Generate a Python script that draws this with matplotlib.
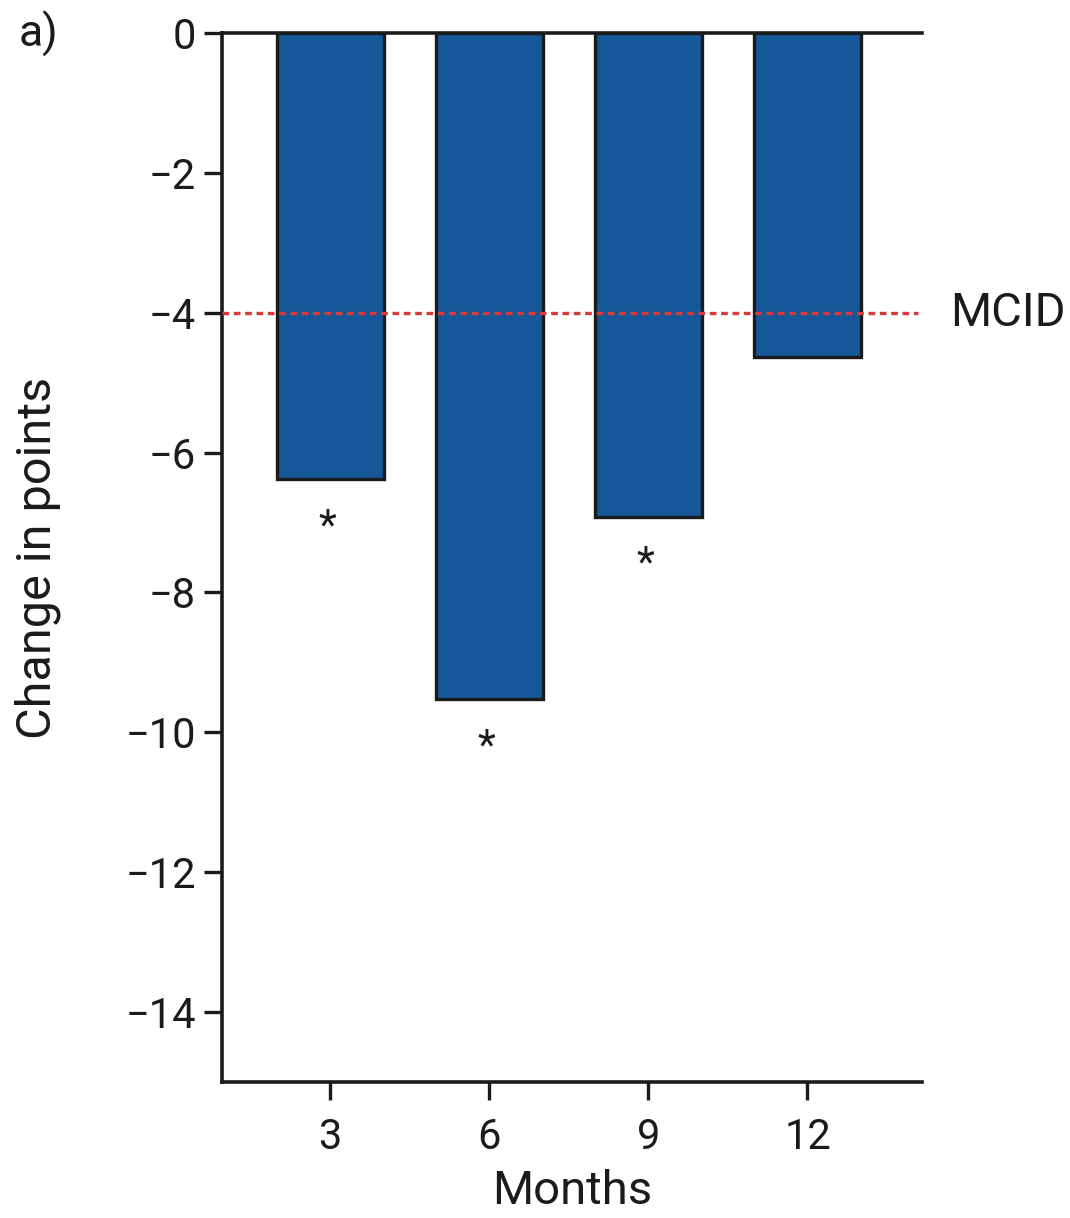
import matplotlib

matplotlib.use("Agg")
import matplotlib.pyplot as plt

months = ["3", "6", "9", "12"]
change = [-6.38, -9.53, -6.92, -4.64]
significant = [True, True, True, False]
mcid = -4.0
y_ticks = [0, -2, -4, -6, -8, -10, -12, -14]

plt.rcParams["font.family"] = ["Liberation Sans Narrow", "Roboto", "DejaVu Sans"]

fig = plt.figure(figsize=(10.7, 12.18), dpi=100)
ax = fig.add_axes([0.2075, 0.1117, 0.6542, 0.8612])

positions = list(range(len(months)))
ax.bar(positions, change, width=0.67, color="#155799", edgecolor="#1a1c1c", linewidth=2.4, zorder=2)
ax.axhline(mcid, xmin=0, xmax=0.994, color="#d83a3a", linestyle=(0, (2.0, 1.4)), linewidth=2.4, zorder=3)
ax.text(1.04, mcid, "MCID", transform=ax.get_yaxis_transform(), ha="left", va="center", fontsize=34, color="#1a1c1c")

for pos, val, sig in zip(positions, change, significant):
    if sig:
        ax.annotate("*", (pos, val), xytext=(-2, -34), textcoords="offset points",
                    ha="center", va="center", fontsize=30, color="#1a1c1c")

ax.set_xlim(-0.68, 3.72)
ax.set_ylim(-15, 0)
ax.set_xticks(positions)
ax.set_xticklabels(months)
ax.set_yticks(y_ticks)
ax.set_yticklabels([str(t).replace("-", "\u2212") for t in y_ticks])
ax.tick_params(axis="both", direction="out", length=13, width=2.4, labelsize=30, color="#1a1c1c", labelcolor="#1a1c1c")
ax.tick_params(axis="x", pad=12)
ax.tick_params(axis="y", pad=6)

for side in ["left", "bottom", "top"]:
    ax.spines[side].set_linewidth(2.6)
    ax.spines[side].set_color("#1a1c1c")
ax.spines["right"].set_visible(False)

ax.set_xlabel("Months", fontsize=34, color="#1a1c1c", labelpad=8)
ax.set_ylabel("Change in points", fontsize=35, color="#1a1c1c", labelpad=46)
fig.text(0.017, 0.972, "a)", fontsize=32, color="#1a1c1c", ha="left", va="center")

fig.savefig("out.png", dpi=100)
plt.close(fig)
